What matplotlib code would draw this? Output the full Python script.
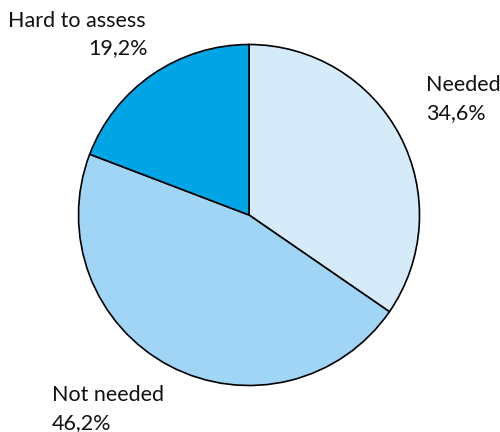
import matplotlib
matplotlib.use("Agg")
from matplotlib import pyplot as plt

# survey answers, clockwise from 12 o'clock
labels = ["Needed", "Not needed", "Hard to assess"]
shares = [34.6, 46.2, 19.2]
colors = ["#d5ebfa", "#a1d5f6", "#00a5e6"]

fig = plt.figure(figsize=(5, 4.32), dpi=100)
ax = fig.add_axes([0, 0, 1, 1])

ax.pie(shares, colors=colors, startangle=90, counterclock=False,
       center=(249, 217), radius=170.5, frame=True,
       wedgeprops=dict(edgecolor="black", linewidth=1.2))
ax.set_xlim(0, 500)
ax.set_ylim(0, 432)
ax.set_aspect("equal")
ax.axis("off")

def pct(v):
	return ("%.1f%%" % v).replace(".", ",")

font = dict(family="Lato", fontsize=15.5, color="#111111", fontweight="normal")

# label positions in pixel space (y measured from top)
ax.text(8, 432 - 21, labels[2], ha="left", va="center", **font)
ax.text(148, 432 - 48, pct(shares[2]), ha="right", va="center", **font)

ax.text(426, 432 - 85, labels[0], ha="left", va="center", **font)
ax.text(426, 432 - 113, pct(shares[0]), ha="left", va="center", **font)

ax.text(52, 432 - 395, labels[1], ha="left", va="center", **font)
ax.text(52, 432 - 423, pct(shares[1]), ha="left", va="center", **font)

fig.savefig("out.png", dpi=100)
